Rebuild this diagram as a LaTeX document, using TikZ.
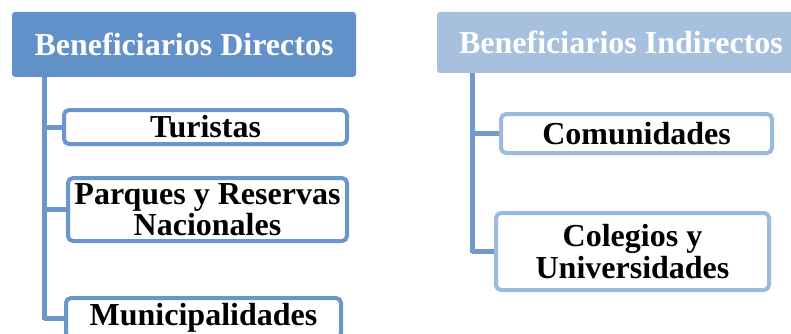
\documentclass[tikz,border=0pt]{standalone}
\usepackage{fontspec}
\setmainfont{Liberation Serif}
\definecolor{hdA}{HTML}{6290C8}
\definecolor{hdB}{HTML}{A6C0DE}
\definecolor{bdA}{HTML}{6A96CC}
\definecolor{bdB}{HTML}{9DB9DD}
\definecolor{lnA}{HTML}{6E96C8}
\definecolor{lnB}{HTML}{7398CA}
\tikzset{
  hdr/.style={rectangle, rounded corners=3pt, inner sep=0pt, text=white,
    font=\bfseries\fontsize{32}{32}\selectfont},
  bx/.style={rectangle, rounded corners=5pt, draw, line width=4pt, fill=white,
    inner sep=0pt, align=center, font=\bfseries\fontsize{32}{32}\selectfont},
  conn/.style={line width=5pt},
}
\begin{document}
\begin{tikzpicture}[x=1pt,y=-1pt]
\useasboundingbox (0,0) rectangle (791,334);
\clip (0,0) rectangle (791,334);
% left tree
\node[hdr, fill=hdA, minimum width=344pt, minimum height=65pt] (hl) at (184,44.5) {Beneficiarios Directos};
\coordinate (vl) at (44,77);
\coordinate (vlend) at (44,320);
\draw[conn, draw=lnA] (vl) -- (vlend);
\node[bx, draw=bdA, minimum width=283pt, minimum height=34pt] (tur) at (205.5,127) {Turistas};
\node[bx, draw=bdA, minimum width=279pt, minimum height=63pt] (par) at (207.5,209.5) {Parques y Reservas\\[-1pt]Nacionales};
\node[bx, draw=bdA, minimum width=275pt, minimum height=40pt] (mun) at (203.5,318) {Municipalidades};
\draw[conn, draw=lnA] (tur.west) -- (tur.west -| vl);
\draw[conn, draw=lnA] (par.west) -- (par.west -| vl);
\draw[conn, draw=lnA] (mun.west) -- (mun.west -| vl);
% right tree
\node[hdr, fill=hdB, minimum width=368pt, minimum height=61pt] (hr) at (621,42.5) {Beneficiarios Indirectos};
\coordinate (vr) at (472,73);
\coordinate (vrend) at (472,253);
\draw[conn, draw=lnB] (vr) -- (vrend);
\node[bx, draw=bdB, minimum width=271pt, minimum height=39pt] (com) at (636.5,133.5) {Comunidades};
\node[bx, draw=bdB, minimum width=273pt, minimum height=77pt] (col) at (632.5,251.5) {Colegios y\\[0pt]Universidades};
\draw[conn, draw=lnB] (com.west) -- (com.west -| vr);
\draw[conn, draw=lnB] (col.west) -- (col.west -| vr);
\end{tikzpicture}
\end{document}
